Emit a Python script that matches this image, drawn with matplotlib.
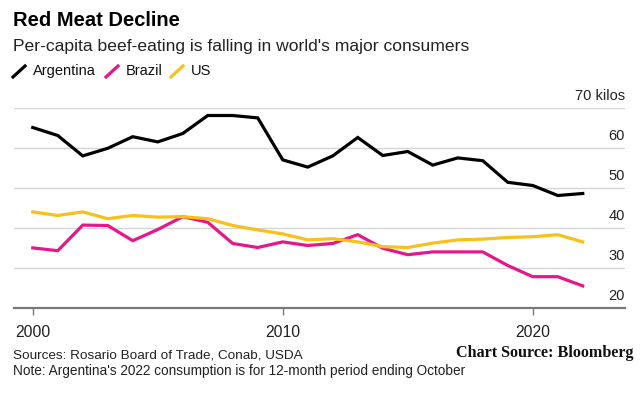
import numpy as np
import matplotlib
matplotlib.use("Agg")
import matplotlib.pyplot as plt
import matplotlib.transforms as mtransforms

plt.rcParams['font.family'] = ['Liberation Sans', 'DejaVu Sans']

# data (kg per capita)
years = list(range(2000, 2023))
argentina = [65.2, 63.2, 58.1, 60.0, 62.9, 61.6, 63.7, 68.2, 68.2, 67.6, 57.1, 55.3,
             58.1, 62.7, 58.2, 59.2, 55.8, 57.6, 56.9, 51.5, 50.7, 48.2, 48.7]
brazil = [35.1, 34.4, 40.8, 40.7, 36.9, 39.7, 42.9, 41.5, 36.2, 35.2, 36.6, 35.7,
          36.2, 38.4, 35.0, 33.4, 34.1, 34.1, 34.1, 30.7, 27.9, 27.9, 25.6]
us = [44.1, 43.2, 44.1, 42.4, 43.2, 42.8, 42.9, 42.4, 40.7, 39.6, 38.6, 37.1,
      37.4, 36.6, 35.4, 35.2, 36.3, 37.1, 37.3, 37.7, 37.9, 38.4, 36.6]
series_names = ["Argentina", "Brazil", "US"]
series_colors = ["#000000", "#e6168c", "#f7c01a"]
y_ticks = [20, 30, 40, 50, 60, 70]
x_ticks = [2000, 2010, 2020]

fig = plt.figure(figsize=(6.42, 3.93), dpi=100)
ax = fig.add_axes([14/642, 1 - 308.3/393, (625 - 14)/642, 200/393])

for vals, name, col in zip([argentina, brazil, us], series_names, series_colors):
    ax.plot(years, vals, color=col, lw=2.3, solid_joinstyle='miter', label=name)

ax.set_xlim(1999.25, 2023.69)
ax.set_ylim(20, 70)

# gridlines
for t in y_ticks[1:]:
    ax.axhline(t, color="#d6d6d6", lw=1, zorder=0)

for s in ["top", "right", "left"]:
    ax.spines[s].set_visible(False)
ax.spines["bottom"].set_color("#7a7a7a")
ax.spines["bottom"].set_linewidth(1.6)

ax.set_yticks([])
ax.set_xticks(x_ticks)
ax.set_xticklabels([str(x) for x in x_ticks], fontsize=11.3, color="#222222")
ax.tick_params(axis="x", length=5, width=1, color="#7a7a7a", pad=7)

# y labels sit above the gridlines at the right edge
trans = mtransforms.blended_transform_factory(ax.transAxes, ax.transData)
for t in y_ticks:
    lab = "70 kilos" if t == 70 else str(t)
    ax.text(1.0, t + 1.4, lab, transform=trans, ha="right", va="bottom",
            fontsize=10.5, color="#222222", clip_on=False)

# title and subtitle
fig.text(13/642, 1 - 21/393, "Red Meat Decline", fontsize=14.5, fontweight="bold",
         va="center", ha="left", color="#000000")
fig.text(13/642, 1 - 46/393, "Per-capita beef-eating is falling in world's major consumers",
         fontsize=12.6, va="center", ha="left", color="#222222")

# legend with slash markers
leg_x = [13, 106, 171]
for x0, name, col in zip(leg_x, series_names, series_colors):
    fig.add_artist(plt.Line2D([x0/642, (x0 + 12)/642], [1 - 77/393, 1 - 66/393],
                              color=col, lw=2.3, transform=fig.transFigure))
    fig.text((x0 + 20)/642, 1 - 71/393, name, fontsize=10.5, va="center", ha="left",
             color="#111111")

# footer
fig.text(13/642, 1 - 356/393, "Sources: Rosario Board of Trade, Conab, USDA",
         fontsize=9.7, va="center", ha="left", color="#222222")
fig.text(13/642, 1 - 371/393, "Note: Argentina's 2022 consumption is for 12-month period ending October",
         fontsize=9.8, va="center", ha="left", color="#222222")
fig.text(633/642, 1 - 353/393, "Chart Source: Bloomberg", fontsize=11.6,
         fontweight="bold", family="Liberation Serif", va="center", ha="right",
         color="#111111")

fig.savefig("out.png", dpi=100)
